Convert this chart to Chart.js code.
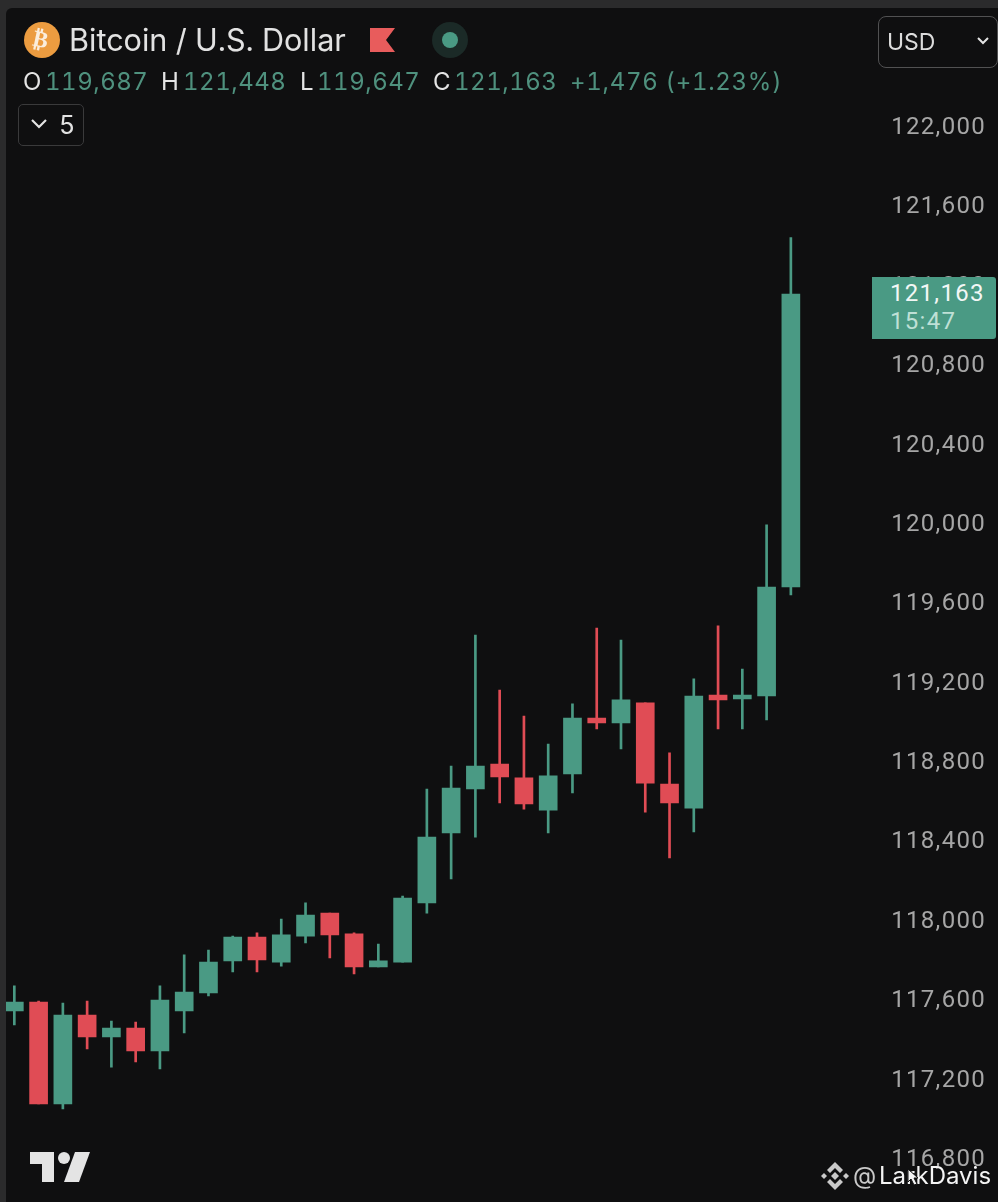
<!DOCTYPE html>
<html>
<head>
<meta charset="utf-8">
<title>Bitcoin / U.S. Dollar</title>
<script src="https://cdn.jsdelivr.net/npm/chart.js@4"></script>
<style>
    html, body { margin: 0; padding: 0; background: #2b2b2c; }
    #page { position: relative; width: 998px; height: 1202px; overflow: hidden; font-family: Inter, sans-serif; font-variant-numeric: tabular-nums; }
    #panel { position: absolute; left: 6px; top: 8px; right: 0; bottom: 0; background: #0f0f10; border-top-left-radius: 6px; }
    #edge { position: absolute; left: 0; top: 0; width: 6px; height: 1202px; background: #2b2b2c; }
    #chart { position: absolute; left: 0; top: 0; }
    .txt { position: absolute; white-space: nowrap; line-height: 1; }
    .ohlc { top: 70px; font-size: 24px; letter-spacing: 0.5px; color: #4f917e; }
    .key { color: #e4e4e4; }
    svg { position: absolute; }
</style>
</head>
<body>
<div id="page">
    <div id="panel"></div>
    <canvas id="chart" width="998" height="1202"></canvas>
    <div id="edge"></div>

    <svg style="left:24px;top:22px" width="36" height="36"><circle cx="18" cy="18" r="18" fill="#ec9c40"/></svg>
    <div class="txt" style="left:33px;top:28px;font-size:23px;font-weight:700;color:#fbeedd;transform:rotate(12deg);font-family:'DejaVu Sans'">₿</div>
    <div class="txt" style="left:69px;top:25px;font-size:30.6px;color:#e2e2e2">Bitcoin / U.S. Dollar</div>
    <svg style="left:370px;top:28px" width="25" height="25"><polygon points="0,0 25,0 16,12 25,24 0,24" fill="#e85c5c"/></svg>
    <svg style="left:432px;top:22px" width="36" height="36"><circle cx="18" cy="18" r="18" fill="#1b2a27"/><circle cx="18" cy="18" r="8" fill="#4a9a84"/></svg>

    <div class="txt ohlc key" style="left:23px">O</div>
    <div class="txt ohlc" style="left:45px">119,687</div>
    <div class="txt ohlc key" style="left:161px">H</div>
    <div class="txt ohlc" style="left:183px">121,448</div>
    <div class="txt ohlc key" style="left:300px">L</div>
    <div class="txt ohlc" style="left:317px">119,647</div>
    <div class="txt ohlc key" style="left:433px">C</div>
    <div class="txt ohlc" style="left:454px">121,163</div>
    <div class="txt ohlc" style="left:570px;letter-spacing:0.7px">+1,476 (+1.23%)</div>

    <div style="position:absolute;left:18px;top:104px;width:64px;height:40px;border:1.5px solid #3a3a3b;border-radius:5px"></div>
    <svg style="left:30px;top:118px" width="18" height="12"><polyline points="2,2 9,9 16,2" fill="none" stroke="#e4e4e4" stroke-width="2.2"/></svg>
    <div class="txt" style="left:59px;top:113px;font-size:25px;color:#e2e2e2">5</div>

    <div style="position:absolute;left:878px;top:16px;width:118px;height:50px;border:1.5px solid #515152;border-radius:8px;box-sizing:content-box"></div>
    <div class="txt" style="left:887px;top:31px;font-size:23px;color:#dcdcdc">USD</div>
    <svg style="left:977px;top:37px" width="12" height="9"><polyline points="1,1 6,6 11,1" fill="none" stroke="#e4e4e4" stroke-width="2"/></svg>

    <div style="position:absolute;left:872px;top:277px;width:124px;height:62px;background:#4a9a84;border-radius:0 3px 3px 0"></div>
    <div class="txt" id="lastPrice" style="left:890px;top:281px;font-family:Roboto;font-size:24px;letter-spacing:1.3px;color:#f2f7f5">121,163</div>
    <div class="txt" id="countdown" style="left:890px;top:309px;font-family:Roboto;font-size:24px;letter-spacing:1.3px;color:#bfe0d6">15:47</div>

    <svg style="left:29px;top:1151px" width="62" height="32" fill="#e4e4e4">
        <polygon points="1,1 25,1 25,31 13,31 13,13 1,13"/>
        <circle cx="35" cy="7" r="6"/>
        <polygon points="46,1 61,1 50,31 35,31"/>
    </svg>

    <svg style="left:820px;top:1161px" width="30" height="30" fill="#c9c9c9">
        <polygon points="15,1 23,9 20,12 15,7 10,12 7,9"/>
        <polygon points="15,29 23,21 20,18 15,23 10,18 7,21"/>
        <polygon points="15,11 19,15 15,19 11,15"/>
        <polygon points="4,12 7,15 4,18 1,15"/>
        <polygon points="26,12 29,15 26,18 23,15"/>
    </svg>
    <div class="txt" style="left:853px;top:1164px;font-size:24px;color:#c9c9c9">@</div>
    <div class="txt" style="left:879px;top:1164px;font-size:24px;color:#f4f4f4">LarkDavis</div>
    <svg style="left:907px;top:1168px" width="12" height="18"><polygon points="1,1 1,14 4,11 7,17 10,16 7,10 11,10" fill="#f4f4f4" stroke="#111" stroke-width="1"/></svg>
</div>

<script>
    // Candles, oldest first
    const opens = [117551, 117596, 117082, 117530, 117420, 117465, 117349, 117551, 117641, 117803, 117923,
        117797, 117928, 118044, 117939, 117772, 117797, 118095, 118448, 118669, 118795, 118725,
        118563, 118745, 119027, 119002, 119103, 118694, 118573, 119143, 119123, 119138, 119687];
    const highs = [117677, 117601, 117591, 117601, 117500, 117495, 117677, 117833, 117858, 117928, 117944,
        118014, 118095, 118044, 117944, 117888, 118130, 118669, 118785, 119445, 119168, 119037,
        118896, 119098, 119480, 119420, 119103, 118851, 119224, 119491, 119274, 120000, 121448];
    const lows = [117480, 117082, 117057, 117359, 117268, 117294, 117258, 117440, 117626, 117747, 117747,
        117777, 117893, 117818, 117737, 117772, 117797, 118044, 118216, 118427, 118599, 118568,
        118448, 118649, 118972, 118871, 118553, 118322, 118453, 118972, 118972, 119017, 119647];
    const closes = [117596, 117082, 117530, 117420, 117465, 117349, 117606, 117646, 117797, 117923, 117808,
        117934, 118034, 117934, 117772, 117803, 118120, 118427, 118674, 118785, 118730, 118594,
        118735, 119027, 119002, 119118, 118699, 118599, 119138, 119118, 119143, 119687, 121163];
    const priceTicks = [122000, 121600, 121200, 120800, 120400, 120000, 119600, 119200, 118800,
        118400, 118000, 117600, 117200, 116800];

    const upColor = '#4a9a84';
    const downColor = '#e04c55';
    const candleColors = opens.map((o, i) => closes[i] >= o ? upColor : downColor);
    const slots = opens.map((o, i) => String(i));

    // Price range that fills the canvas height
    const priceMin = 116588;
    const priceMax = 122645;

    const canvasContext = document.getElementById('chart').getContext('2d');
    new Chart(canvasContext, {
        type: 'bar',
        data: {
            labels: slots,
            datasets: [
                {
                    // Wicks
                    data: lows.map((l, i) => [l, highs[i]]),
                    backgroundColor: candleColors,
                    barThickness: 2,
                    grouped: false,
                    order: 2,
                },
                {
                    // Bodies
                    data: opens.map((o, i) => [Math.min(o, closes[i]), Math.max(o, closes[i])]),
                    backgroundColor: candleColors,
                    barThickness: 18,
                    grouped: false,
                    order: 1,
                },
            ],
        },
        options: {
            responsive: false,
            animation: false,
            events: [],
            layout: { padding: { left: 2.2, right: 12, top: 0, bottom: 0 } },
            plugins: { legend: { display: false }, tooltip: { enabled: false } },
            scales: {
                x: {
                    display: false,
                    grid: { display: false },
                },
                y: {
                    position: 'right',
                    min: priceMin,
                    max: priceMax,
                    afterBuildTicks: axis => { axis.ticks = priceTicks.map(v => ({ value: v })); },
                    afterFit: axis => {
                        axis.width = 183;
                        // Labels stay inside the canvas, no margin needed for them
                        axis.paddingTop = 0;
                        axis.paddingBottom = 0;
                    },
                    grid: { display: false, drawTicks: false },
                    border: { display: false },
                    ticks: {
                        crossAlign: 'far',
                        color: '#a6a6a6',
                        font: { family: 'Roboto', size: 24 },
                        callback: v => v.toLocaleString('en-US'),
                    },
                },
            },
        },
        plugins: [{
            id: 'labelSpacing',
            beforeDraw: chart => { chart.ctx.letterSpacing = '1.3px'; },
        }],
    });
</script>
</body>
</html>
